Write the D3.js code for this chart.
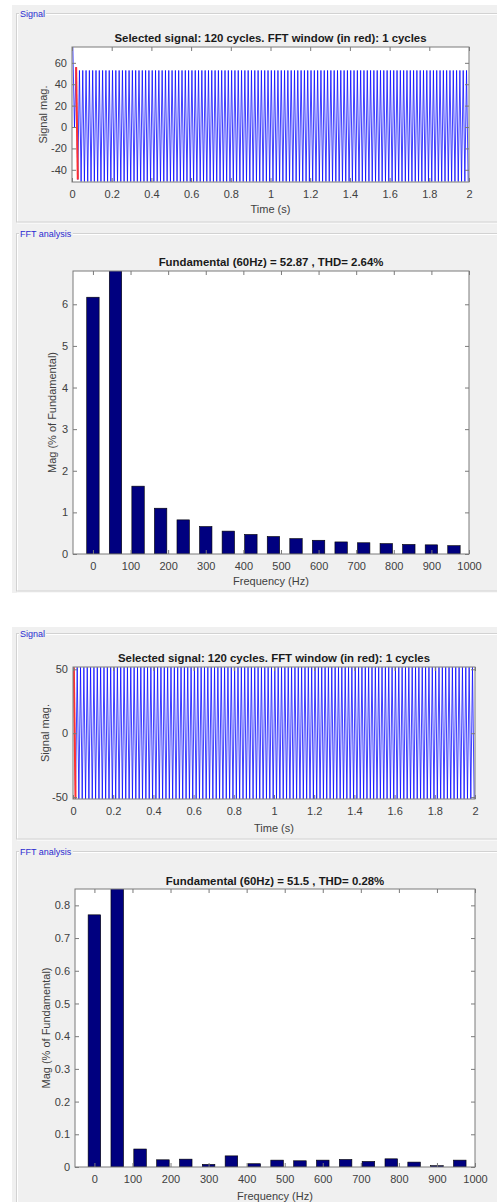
<!DOCTYPE html>
<html>
<head>
<meta charset="utf-8">
<script src="https://cdn.jsdelivr.net/npm/d3@7"></script>
<style>
  body { margin: 0; background: #fff; }
  svg { display: block; font-family: "Liberation Sans", Arial, sans-serif; }
</style>
</head>
<body>
<div id="chart"></div>
<script>
// Define size of svg
var svgWidth = 497;
var svgHeight = 1202;

// ---- Data ----
// time axis ticks (s) and frequency axis ticks (Hz)
var timeTicks = [0, 0.2, 0.4, 0.6, 0.8, 1, 1.2, 1.4, 1.6, 1.8, 2];
var freqTicks = [0, 100, 200, 300, 400, 500, 600, 700, 800, 900, 1000];

// case 1 signal: peaks / troughs of first cycles, rest is steady state
var sig1Cycles = 120;
var sig1Hz = 60;
var sig1Max = [75, 56, 52.9];
var sig1Min = [0, -49, -51];
var sig1Window = 1;          // index of cycle in red (FFT window)
var sig1Ticks = [-40, -20, 0, 20, 40, 60];

// case 1 FFT (% of fundamental)
var fft1Freq = [0, 60, 120, 180, 240, 300, 360, 420, 480, 540, 600, 660, 720, 780, 840, 900, 960];
var fft1Mag = [6.17, 100, 1.63, 1.10, 0.82, 0.66, 0.55, 0.47, 0.42, 0.37, 0.33, 0.29, 0.27, 0.25, 0.23, 0.22, 0.20];
var fft1Ticks = [0, 1, 2, 3, 4, 5, 6];

// case 2 signal
var sig2Cycles = 120;
var sig2Hz = 60;
var sig2Max = [51.6];
var sig2Min = [-51.4];
var sig2Window = 0;
var sig2Ticks = [-50, 0, 50];

// case 2 FFT (% of fundamental)
var fft2Freq = [0, 60, 120, 180, 240, 300, 360, 420, 480, 540, 600, 660, 720, 780, 840, 900, 960];
var fft2Mag = [0.771, 100, 0.055, 0.022, 0.024, 0.008, 0.034, 0.010, 0.021, 0.019, 0.021, 0.023, 0.017, 0.025, 0.015, 0.004, 0.021];
var fft2Ticks = [0, 0.1, 0.2, 0.3, 0.4, 0.5, 0.6, 0.7, 0.8];

var textColor = "#404040";
var boxColor = "#7a7a7a";

// Add svg to webpage
var svg = d3.select("#chart")
    .append("svg")
    .attr("width", svgWidth)
    .attr("height", svgHeight);

// grey figure backgrounds
svg.append("rect").attr("x", 12).attr("y", 5).attr("width", 485).attr("height", 588).attr("fill", "#f0f0f0");
svg.append("rect").attr("x", 12).attr("y", 627).attr("width", 485).attr("height", 575).attr("fill", "#f0f0f0");

// etched panel frames with title
function panel(y0, y1, label) {
    var g = svg.append("g");
    g.append("rect").attr("x", 17.5).attr("y", y0 + 1).attr("width", 490).attr("height", y1 - y0)
        .attr("fill", "none").attr("stroke", "#ffffff");
    g.append("rect").attr("x", 16.5).attr("y", y0).attr("width", 490).attr("height", y1 - y0)
        .attr("fill", "none").attr("stroke", "#d2d2d2");
    var t = g.append("text").attr("x", 20).attr("y", y0 + 3).attr("font-size", "9px")
        .attr("fill", "#2b2bd0").text(label);
    var bb = t.node().getBBox();
    g.insert("rect", "text").attr("x", bb.x - 1).attr("y", y0 - 2).attr("width", bb.width + 2).attr("height", 5)
        .attr("fill", "#f0f0f0");
}
panel(13.5, 222, "Signal");
panel(233.5, 591, "FFT analysis");
panel(633.5, 839, "Signal");
panel(851.5, 1220, "FFT analysis");

// draw box, ticks on all four sides
function drawAxes(g, x, y, w, h, xTicks, yTicks, xFmt, yFmt) {
    g.append("g")
        .attr("transform", `translate(0, ${h})`)
        .call(d3.axisBottom(x).tickValues(xTicks).tickFormat(xFmt).tickSizeInner(-4).tickSizeOuter(0).tickPadding(8))
        .classed("bottom-axis", true);
    g.append("g")
        .call(d3.axisTop(x).tickValues(xTicks).tickFormat("").tickSizeInner(-4).tickSizeOuter(0));
    g.append("g")
        .call(d3.axisLeft(y).tickValues(yTicks).tickFormat(yFmt).tickSizeInner(-4).tickSizeOuter(0).tickPadding(5))
        .classed("left-axis", true);
    g.append("g")
        .attr("transform", `translate(${w}, 0)`)
        .call(d3.axisRight(y).tickValues(yTicks).tickFormat("").tickSizeInner(-4).tickSizeOuter(0));
    g.selectAll(".domain").remove();
    g.selectAll(".tick line").attr("stroke", boxColor);
    g.selectAll(".tick text").attr("fill", textColor).attr("font-size", "11px").attr("font-family", null);
    g.append("rect").attr("x", 0).attr("y", 0).attr("width", w).attr("height", h)
        .attr("fill", "none").attr("stroke", boxColor).attr("stroke-width", 1);
}

function labels(g, w, h, title, xLabel, yLabel, titleY, xLabY, yLabX) {
    g.append("text")
        .attr("x", w / 2).attr("y", titleY)
        .attr("text-anchor", "middle")
        .attr("font-weight", "bold")
        .attr("font-size", "11.4px")
        .attr("fill", "#1a1a1a")
        .text(title);
    g.append("text")
        .attr("x", w / 2).attr("y", xLabY)
        .attr("text-anchor", "middle")
        .attr("font-size", "11px")
        .attr("fill", textColor)
        .text(xLabel);
    g.append("text")
        .attr("transform", `translate(${yLabX}, ${h / 2}) rotate(-90)`)
        .attr("text-anchor", "middle")
        .attr("font-size", "11px")
        .attr("fill", textColor)
        .text(yLabel);
}

// time-domain signal plot
function signalPlot(box, yDomain, cycles, hz, maxArr, minArr, win, yTicks, title, id) {
    var w = box.right - box.left, h = box.bottom - box.top;
    var g = svg.append("g").attr("transform", `translate(${box.left}, ${box.top})`);
    var x = d3.scaleLinear().domain([0, cycles / hz]).range([0, w]);
    var y = d3.scaleLinear().domain(yDomain).range([h, 0]);

    g.append("rect").attr("width", w).attr("height", h).attr("fill", "#fff");
    g.append("clipPath").attr("id", id).append("rect").attr("width", w).attr("height", h);

    // peaks and troughs of every cycle
    var pts = [];
    for (var k = 0; k < cycles; k++) {
        var hi = maxArr[Math.min(k, maxArr.length - 1)];
        var lo = minArr[Math.min(k, minArr.length - 1)];
        pts.push({ t: (k + 0.25) / hz, v: hi, k: k });
        pts.push({ t: (k + 0.75) / hz, v: lo, k: k });
    }
    var line = d3.line().x(d => x(d.t)).y(d => y(d.v));
    var plot = g.append("g").attr("clip-path", `url(#${id})`);
    plot.append("path").datum(pts)
        .attr("d", line)
        .attr("fill", "none")
        .attr("stroke", "#0000ff")
        .attr("stroke-opacity", 0.75)
        .attr("stroke-width", 1);
    // FFT window in red
    var redPts = pts.filter(d => d.k == win);
    plot.append("path").datum(redPts)
        .attr("d", line)
        .attr("fill", "none")
        .attr("stroke", "#ff3030")
        .attr("stroke-width", 2);

    drawAxes(g, x, y, w, h, timeTicks, yTicks, d => d, d => d);
    labels(g, w, h, title, "Time (s)", "Signal mag.", box.titleY - box.top, box.xLabY - box.top, box.yLabX - box.left);
}

// harmonic spectrum bar plot
function fftPlot(box, xDomain, yMax, freqs, mags, yTicks, title, id) {
    var w = box.right - box.left, h = box.bottom - box.top;
    var g = svg.append("g").attr("transform", `translate(${box.left}, ${box.top})`);
    var x = d3.scaleLinear().domain(xDomain).range([0, w]);
    var y = d3.scaleLinear().domain([0, yMax]).range([h, 0]);

    g.append("rect").attr("width", w).attr("height", h).attr("fill", "#fff");
    g.append("clipPath").attr("id", id).append("rect").attr("width", w).attr("height", h);

    var barW = x(33) - x(0);
    g.append("g").attr("clip-path", `url(#${id})`)
        .selectAll("rect")
        .data(freqs)
        .enter()
        .append("rect")
        .attr("x", d => x(d) - barW / 2)
        .attr("y", (d, i) => y(mags[i]))
        .attr("width", barW)
        .attr("height", (d, i) => h - y(mags[i]))
        .attr("fill", "#00007f")
        .attr("stroke", "#000")
        .attr("stroke-width", 0.6);

    drawAxes(g, x, y, w, h, freqTicks, yTicks, d => d, d => d);
    labels(g, w, h, title, "Frequency (Hz)", "Mag (% of Fundamental)", box.titleY - box.top, box.xLabY - box.top, box.yLabX - box.left);
}

signalPlot({ left: 72, right: 469, top: 47, bottom: 182, titleY: 42, xLabY: 213, yLabX: 47 },
    [-51.4, 74.8], sig1Cycles, sig1Hz, sig1Max, sig1Min, sig1Window, sig1Ticks,
    "Selected signal: 120 cycles. FFT window (in red): 1 cycles", "clip1");

fftPlot({ left: 73, right: 469, top: 271, bottom: 554, titleY: 266, xLabY: 585, yLabX: 56 },
    [-53, 1000], 6.8, fft1Freq, fft1Mag, fft1Ticks,
    "Fundamental (60Hz) = 52.87 , THD= 2.64%", "clip2");

signalPlot({ left: 73, right: 475, top: 667, bottom: 799, titleY: 662, xLabY: 832, yLabX: 49 },
    [-51.5, 51.8], sig2Cycles, sig2Hz, sig2Max, sig2Min, sig2Window, sig2Ticks,
    "Selected signal: 120 cycles. FFT window (in red): 1 cycles", "clip3");

fftPlot({ left: 75, right: 475, top: 889, bottom: 1167, titleY: 885, xLabY: 1200, yLabX: 50 },
    [-51, 1000], 0.85, fft2Freq, fft2Mag, fft2Ticks,
    "Fundamental (60Hz) = 51.5 , THD= 0.28%", "clip4");
</script>
</body>
</html>
